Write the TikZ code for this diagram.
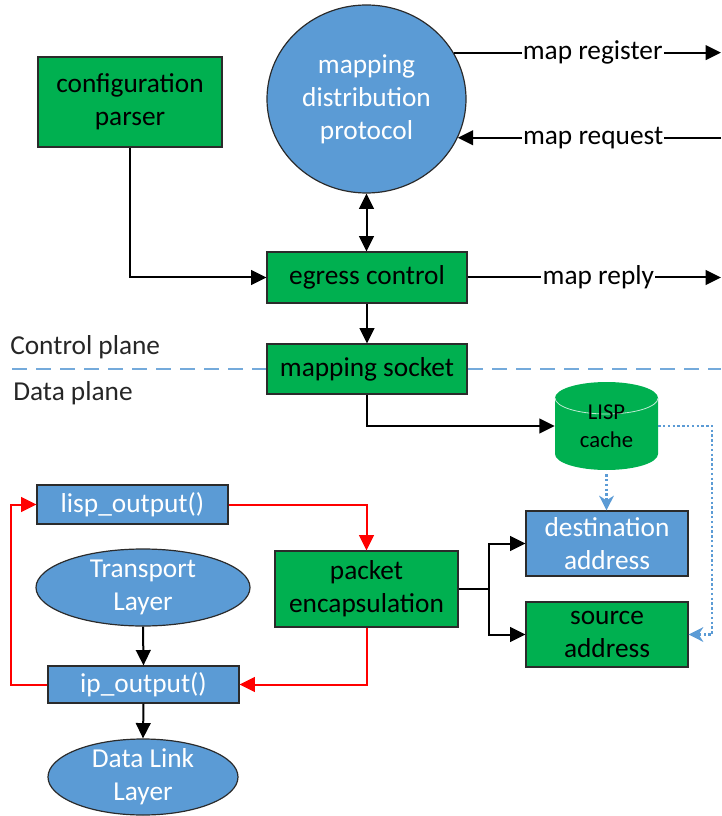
\documentclass[tikz,border=0pt]{standalone}
\usepackage{fontspec}
\setmainfont{Carlito}
\usetikzlibrary{arrows.meta,shapes.geometric}
\definecolor{grn}{HTML}{00B050}
\definecolor{blu}{HTML}{5B9BD5}
\definecolor{edgec}{HTML}{2B2B2B}
\begin{document}
\begin{tikzpicture}[x=0.75pt,y=-0.75pt,
  every node/.style={font=\fontsize{20.5}{24.75}\selectfont, align=center, inner sep=0pt},
  gbox/.style={rectangle, draw=edgec, line width=0.9pt, fill=grn, text=black},
  bbox/.style={rectangle, draw=edgec, line width=0.9pt, fill=blu, text=white},
  bell/.style={ellipse, draw=edgec, line width=0.9pt, fill=blu, text=white},
  sz/.style 2 args={minimum width=#1*0.75pt, minimum height=#2*0.75pt},
  conn/.style={line width=1.5pt, -{Triangle[length=11.5pt,width=11pt]}},
  dbl/.style={line width=1.5pt, {Triangle[length=11.5pt,width=11pt]}-{Triangle[length=11.5pt,width=11pt]}},
  rconn/.style={red, line width=1.5pt, -{Triangle[length=11.5pt,width=11pt]}},
  dconn/.style={blu, line width=1.8pt, dash pattern=on 1.8pt off 1.8pt, -{Stealth[length=11pt,width=11pt,inset=3.5pt]}},
  lbl/.style={fill=white, inner xsep=1pt, inner ysep=2pt},
]
\useasboundingbox (0,0) rectangle (721,816);

% divider
\coordinate (dL) at (12,369);
\coordinate (dR) at (721,369);
\draw[blu!85, line width=1.6pt, dash pattern=on 11pt off 7pt] (dL) -- (dR);

% nodes
\node[gbox, sz={184}{90}] (cfg) at (130,102) {configuration\\parser};
\node[bell, sz={199}{188}] (mdp) at (366.5,99) {mapping\\distribution\\protocol};
\node[gbox, sz={200}{51}] (egr) at (367,277.5) {egress control};
\node[gbox, sz={200}{50}] (sock) at (367,369) {mapping socket};

% cylinder
\fill[grn] (555,398) -- (555,454) arc[start angle=180,end angle=360,x radius=38.625pt,y radius=12pt]
  -- (658,398) arc[start angle=0,end angle=180,x radius=38.625pt,y radius=12pt] -- cycle;
\draw[white!75!grn, line width=0.6pt] (555,398) arc[start angle=180,end angle=360,x radius=38.625pt,y radius=12pt];
\node[sz={103}{88}, font=\fontsize{17}{21}\selectfont] (cache) at (606.5,426) {LISP\\cache};

\node[bbox, sz={162}{65}] (dst) at (607,543.5) {destination\\address};
\node[gbox, sz={162}{65}] (src) at (607,634.5) {source\\address};
\node[gbox, sz={183}{76}] (pkt) at (366.5,589) {packet\\encapsulation};
\node[bbox, sz={191}{39}] (lsp) at (132.5,504.5) {lisp\_output()};
\node[bell, sz={214}{77}, inner ysep=-6pt] (trn) at (143,587.5) {Transport\\Layer};
\node[bbox, sz={191}{37}] (ipo) at (143.5,684.5) {ip\_output()};
\node[bell, sz={190}{76}, inner ysep=-6pt] (dll) at (143,777) {Data Link\\Layer};

\node[anchor=west, text=black!85] (cp) at (10,347) {Control plane};
\node[anchor=west, text=black!85] (dp) at (13,393) {Data plane};

% external ends
\coordinate (rE) at (721,53);
\coordinate (qS) at (721,137);
\coordinate (yE) at (721,277);

% connectors
\draw[conn] (mdp.28) -- (mdp.28 -| rE) node[lbl,pos=0.52]{map register};
\draw[conn] (mdp.337 -| qS) -- (mdp.337) node[lbl,pos=0.486]{map request};
\draw[conn] (egr.east) -- (egr.east -| yE) node[lbl,pos=0.516]{map reply};
\draw[dbl] (mdp.south) -- (mdp.south |- egr.north);
\draw[conn] (cfg.south) |- (egr.west);
\draw[conn] (egr.south) -- (sock.north);
\draw[conn] (sock.south) |- (cache.west);
\draw[dconn] (cache.east) -- ++(54,0) |- (src.east);
\draw[dconn] ([yshift=-3pt]cache.south) -- (cache.south |- dst.north);
\draw[conn] (pkt.east) -- ++(30,0) |- (dst.west);
\draw[conn] (pkt.east) -- ++(30,0) |- (src.west);
\draw[rconn] (lsp.east) -| (pkt.north);
\draw[rconn] (pkt.south) |- (ipo.east);
\draw[rconn] (ipo.west) -- ++(-36,0) |- (lsp.west);
\draw[conn] (trn.south) -- (ipo.north);
\draw[conn] (ipo.south) -- (dll.north);
\end{tikzpicture}
\end{document}
